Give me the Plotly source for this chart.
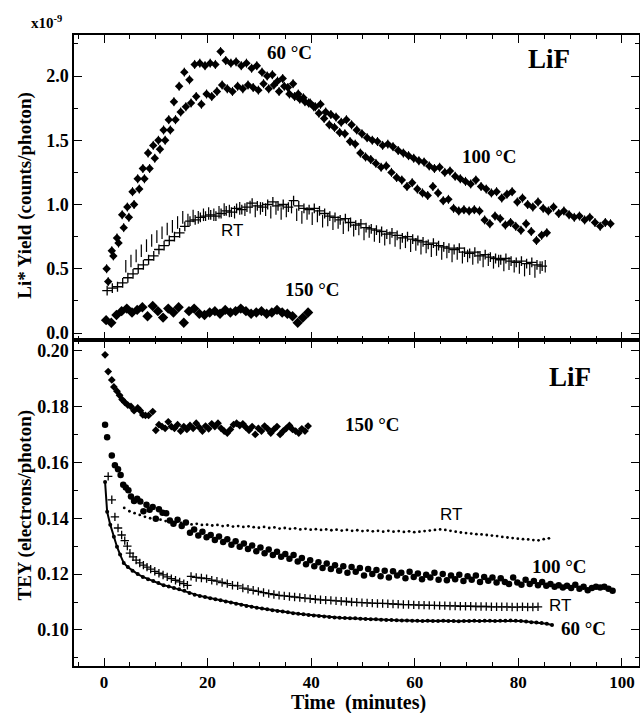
import plotly.graph_objects as go

# ---------------- Top panel: Li* yield (x1e-9 counts/photon) ----------------
t_top_60 = [0.5, 1.5, 2.5, 3.5, 4.5, 5.5, 6.5, 7.5, 8.5, 9.5,
            10.5, 11.5, 12.5, 13.5, 14.5, 15.5, 16.5, 17.5, 18.5, 19.5,
            20.5, 21.5, 22.5, 23.5, 24.5, 25.5, 26.5, 27.5, 28.5, 29.5,
            30.5, 31.5, 32.5, 33.5, 34.5, 35.5, 36.5, 37.5, 38.5, 39.5,
            40.5, 41.5, 42.5, 43.5, 44.5, 45.5, 46.5, 47.5, 48.5, 49.5,
            50.5, 51.5, 52.5, 53.5, 54.5, 55.5, 56.5, 57.5, 58.5, 59.5,
            60.5, 61.5, 62.5, 63.5, 64.5, 65.5, 66.5, 67.5, 68.5, 69.5,
            70.5, 71.5, 72.5, 73.5, 74.5, 75.5, 76.5, 77.5, 78.5, 79.5,
            80.5, 81.5, 82.5, 83.5, 84.5, 85.5]
y_top_60 = [0.50, 0.64, 0.74, 0.92, 0.98, 1.10, 1.20, 1.28, 1.40, 1.46,
            1.50, 1.58, 1.66, 1.80, 1.92, 2.03, 1.97, 2.09, 2.10, 2.08,
            2.10, 2.09, 2.19, 2.12, 2.10, 2.11, 2.08, 2.10, 2.06, 2.08,
            2.03, 2.00, 2.01, 1.96, 1.98, 1.91, 1.94, 1.86, 1.83, 1.79,
            1.76, 1.71, 1.67, 1.62, 1.60, 1.56, 1.55, 1.49, 1.47, 1.40,
            1.37, 1.35, 1.32, 1.29, 1.30, 1.25, 1.21, 1.19, 1.14, 1.17,
            1.12, 1.09, 1.07, 1.14, 1.09, 1.03, 1.04, 0.97, 0.95, 0.96,
            0.95, 0.96, 0.95, 0.88, 0.85, 0.91, 0.89, 0.84, 0.86, 0.83,
            0.80, 0.85, 0.79, 0.72, 0.76, 0.78]

t_top_100 = [0.8, 1.8, 2.8, 3.8, 4.8, 5.8, 6.8, 7.8, 8.8, 9.8,
             10.8, 11.8, 12.8, 13.8, 14.8, 15.8, 16.8, 17.8, 18.8, 19.8,
             20.8, 21.8, 22.8, 23.8, 24.8, 25.8, 26.8, 27.8, 28.8, 29.8,
             30.8, 31.8, 32.8, 33.8, 34.8, 35.8, 36.8, 37.8, 38.8, 39.8,
             40.8, 41.8, 42.8, 43.8, 44.8, 45.8, 46.8, 47.8, 48.8, 49.8,
             50.8, 51.8, 52.8, 53.8, 54.8, 55.8, 56.8, 57.8, 58.8, 59.8,
             60.8, 61.8, 62.8, 63.8, 64.8, 65.8, 66.8, 67.8, 68.8, 69.8,
             70.8, 71.8, 72.8, 73.8, 74.8, 75.8, 76.8, 77.8, 78.8, 79.8,
             80.8, 81.8, 82.8, 83.8, 84.8, 85.8, 86.8, 87.8, 88.8, 89.8,
             90.8, 91.8, 92.8, 93.8, 94.8, 95.8, 96.8, 97.8]
y_top_100 = [0.40, 0.60, 0.70, 0.82, 0.90, 1.00, 1.12, 1.20, 1.28, 1.36,
             1.43, 1.50, 1.58, 1.66, 1.72, 1.76, 1.79, 1.84, 1.78, 1.86,
             1.84, 1.88, 1.93, 1.90, 1.88, 1.92, 1.90, 1.93, 1.91, 1.89,
             1.94, 1.90, 1.93, 1.88, 1.92, 1.86, 1.84, 1.82, 1.80, 1.79,
             1.76, 1.78, 1.72, 1.70, 1.68, 1.64, 1.66, 1.62, 1.58, 1.55,
             1.52, 1.50, 1.49, 1.46, 1.47, 1.45, 1.42, 1.40, 1.38, 1.36,
             1.34, 1.33, 1.30, 1.28, 1.29, 1.25, 1.26, 1.22, 1.20, 1.18,
             1.16, 1.19, 1.14, 1.12, 1.09, 1.10, 1.05, 1.08, 1.10, 1.02,
             1.05, 1.00, 0.98, 1.02, 0.97, 0.95, 0.98, 0.93, 0.95, 0.92,
             0.90, 0.91, 0.88, 0.90, 0.86, 0.83, 0.86, 0.85]

t_top_rt_cross = [0.6, 1.6, 2.6, 3.6, 4.6, 5.6, 6.6, 7.6, 8.6, 9.6,
                  10.6, 11.6, 12.6, 13.6, 14.6, 15.6, 16.6, 17.6, 18.6, 19.6,
                  20.6, 21.6, 22.6, 23.6, 24.6, 25.6, 26.6, 27.6, 28.6, 29.6,
                  30.6, 31.6, 32.6, 33.6, 34.6, 35.6, 36.6, 37.6, 38.6, 39.6,
                  40.6, 41.6, 42.6, 43.6, 44.6, 45.6, 46.6, 47.6, 48.6, 49.6,
                  50.6, 51.6, 52.6, 53.6, 54.6, 55.6, 56.6, 57.6, 58.6, 59.6,
                  60.6, 61.6, 62.6, 63.6, 64.6, 65.6, 66.6, 67.6, 68.6, 69.6,
                  70.6, 71.6, 72.6, 73.6, 74.6, 75.6, 76.6, 77.6, 78.6, 79.6,
                  80.6, 81.6, 82.6, 83.6, 84.6]
y_top_rt_cross = [0.33, 0.35, 0.36, 0.39, 0.43, 0.46, 0.50, 0.53, 0.57, 0.60,
                  0.65, 0.68, 0.72, 0.75, 0.78, 0.83, 0.87, 0.88, 0.90, 0.91,
                  0.92, 0.91, 0.93, 0.95, 0.94, 0.97, 0.96, 0.98, 1.01, 0.99,
                  0.98, 1.00, 1.02, 0.99, 1.00, 0.98, 1.03, 0.99, 0.97, 0.96,
                  0.97, 0.95, 0.93, 0.91, 0.90, 0.88, 0.89, 0.86, 0.84, 0.85,
                  0.82, 0.81, 0.80, 0.79, 0.77, 0.78, 0.76, 0.74, 0.75, 0.73,
                  0.72, 0.71, 0.69, 0.70, 0.68, 0.67, 0.66, 0.65, 0.66, 0.63,
                  0.62, 0.63, 0.60, 0.61, 0.59, 0.58, 0.57, 0.58, 0.56, 0.55,
                  0.56, 0.54, 0.55, 0.53, 0.52]

t_top_rt_bar = [4.2, 5.2, 6.2, 7.2, 8.2, 9.2, 10.2, 11.2, 12.2, 13.2,
                14.2, 15.2, 16.2, 17.2, 18.2, 19.2, 20.2, 21.2, 22.2, 23.2,
                24.2, 25.2, 26.2, 27.2, 28.2, 29.2, 30.2, 31.2, 32.2, 33.2,
                34.2, 35.2, 36.2, 37.2, 38.2, 39.2, 40.2, 41.2, 42.2, 43.2,
                44.2, 45.2, 46.2, 47.2, 48.2, 49.2, 50.2, 51.2, 52.2, 53.2,
                54.2, 55.2, 56.2, 57.2, 58.2, 59.2, 60.2, 61.2, 62.2, 63.2,
                64.2, 65.2, 66.2, 67.2, 68.2, 69.2, 70.2, 71.2, 72.2, 73.2,
                74.2, 75.2, 76.2, 77.2, 78.2, 79.2, 80.2, 81.2, 82.2, 83.2,
                84.2, 85.2]
y_top_rt_bar = [0.52, 0.56, 0.60, 0.64, 0.68, 0.72, 0.75, 0.78, 0.81, 0.83,
                0.86, 0.90, 0.88, 0.91, 0.90, 0.92, 0.93, 0.92, 0.94, 0.96,
                0.95, 0.94, 0.97, 0.96, 0.98, 0.95, 0.97, 0.96, 0.94, 0.97,
                0.93, 0.95, 0.98, 0.92, 0.90, 0.93, 0.89, 0.91, 0.87, 0.88,
                0.85, 0.86, 0.82, 0.84, 0.80, 0.81, 0.77, 0.79, 0.76, 0.75,
                0.73, 0.74, 0.72, 0.70, 0.71, 0.68, 0.69, 0.66, 0.67, 0.64,
                0.65, 0.62, 0.63, 0.60, 0.62, 0.59, 0.60, 0.58, 0.59, 0.56,
                0.57, 0.55, 0.56, 0.53, 0.54, 0.52, 0.51, 0.49, 0.50, 0.48,
                0.51, 0.52]

t_top_150 = [0.4, 1.4, 2.4, 3.4, 4.4, 5.4, 6.4, 7.4, 8.4, 9.4,
             10.4, 11.4, 12.4, 13.4, 14.4, 15.4, 16.4, 17.4, 18.4, 19.4,
             20.4, 21.4, 22.4, 23.4, 24.4, 25.4, 26.4, 27.4, 28.4, 29.4,
             30.4, 31.4, 32.4, 33.4, 34.4, 35.4, 36.4, 37.4, 38.4, 39.4]
y_top_150 = [0.10, 0.08, 0.14, 0.17, 0.19, 0.16, 0.18, 0.20, 0.13, 0.21,
             0.17, 0.12, 0.19, 0.16, 0.20, 0.08, 0.17, 0.19, 0.15, 0.14,
             0.16, 0.17, 0.15, 0.18, 0.16, 0.17, 0.19, 0.17, 0.15, 0.16,
             0.17, 0.15, 0.16, 0.18, 0.16, 0.15, 0.13, 0.08, 0.12, 0.16]

# ---------------- Bottom panel: TEY (electrons/photon) ----------------
t_bot_150 = [0.2, 0.8, 1.5, 1.9, 2.5, 3.0, 3.5, 4.0, 4.6, 5.2,
             5.8, 6.5, 7.0, 7.5, 8.0, 8.6, 9.4, 10.0, 10.6, 11.2,
             11.8, 12.4, 13.0, 13.6, 14.2, 14.8, 15.4, 16.0, 16.6, 17.2,
             17.8, 18.4, 19.0, 19.6, 20.2, 20.8, 21.4, 22.0, 22.6, 23.2,
             23.8, 24.4, 25.0, 25.6, 26.2, 26.8, 27.4, 28.0, 28.6, 29.2,
             29.8, 30.4, 31.0, 31.6, 32.2, 32.8, 33.4, 34.0, 34.6, 35.2,
             35.8, 36.4, 37.0, 37.6, 38.2, 38.8, 39.4]
y_bot_150 = [0.1985, 0.1925, 0.1895, 0.1870, 0.1855, 0.1840, 0.1825, 0.1815, 0.1805, 0.1800,
             0.1785, 0.1795, 0.1785, 0.1770, 0.1768, 0.1768, 0.1782, 0.1715, 0.1735, 0.1728,
             0.1722, 0.1745, 0.1728, 0.1722, 0.1735, 0.1712, 0.1728, 0.1718, 0.1732, 0.1722,
             0.1740, 0.1725, 0.1712, 0.1730, 0.1720, 0.1738, 0.1728, 0.1740, 0.1722, 0.1712,
             0.1705, 0.1718, 0.1735, 0.1740, 0.1732, 0.1738, 0.1725, 0.1715, 0.1728, 0.1700,
             0.1722, 0.1712, 0.1730, 0.1720, 0.1705, 0.1718, 0.1728, 0.1700, 0.1712, 0.1722,
             0.1732, 0.1718, 0.1712, 0.1705, 0.1720, 0.1712, 0.1730]

t_bot_100 = [0.2, 0.6, 1.5, 2.1, 2.7, 3.2, 3.7, 4.2, 4.7, 5.2,
             5.8, 6.4, 7.0, 7.6, 8.2, 8.8, 9.4, 10.0, 10.6, 11.3,
             12.0, 12.7, 13.4, 14.2, 15.0, 15.8, 16.6, 17.4, 18.2, 19.0,
             19.8, 20.6, 21.4, 22.2, 23.0, 23.8, 24.6, 25.4, 26.2, 27.0,
             27.8, 28.6, 29.4, 30.2, 31.0, 31.8, 32.6, 33.4, 34.2, 35.0,
             35.8, 36.6, 37.4, 38.2, 39.0, 39.8, 40.6, 41.4, 42.2, 43.0,
             43.8, 44.6, 45.4, 46.2, 47.0, 47.8, 48.6, 49.4, 50.2, 51.0,
             51.8, 52.6, 53.4, 54.2, 55.0, 55.8, 56.6, 57.4, 58.2, 59.0,
             59.8, 60.6, 61.4, 62.2, 63.0, 63.8, 64.6, 65.4, 66.2, 67.0,
             67.8, 68.6, 69.4, 70.2, 71.0, 71.8, 72.6, 73.4, 74.2, 75.0,
             75.8, 76.6, 77.4, 78.2, 79.0, 79.8, 80.6, 81.4, 82.2, 83.0,
             83.8, 84.6, 85.4, 86.2, 87.0, 87.8, 88.6, 89.4, 90.2, 91.0,
             91.8, 92.6, 93.4, 94.2, 95.0, 95.8, 96.6, 97.4, 98.2]
y_bot_100 = [0.1735, 0.1690, 0.1625, 0.1590, 0.1575, 0.1555, 0.1520, 0.1510, 0.1500, 0.1478,
             0.1462, 0.1470, 0.1460, 0.1425, 0.1448, 0.1430, 0.1440, 0.1398, 0.1432, 0.1420,
             0.1418, 0.1392, 0.1380, 0.1395, 0.1372, 0.1385, 0.1348, 0.1360, 0.1338, 0.1352,
             0.1332, 0.1340, 0.1322, 0.1335, 0.1315, 0.1325, 0.1305, 0.1318, 0.1298, 0.1310,
             0.1290, 0.1302, 0.1282, 0.1295, 0.1275, 0.1288, 0.1268, 0.1280, 0.1262, 0.1272,
             0.1255, 0.1268, 0.1245, 0.1258, 0.1235, 0.1250, 0.1228, 0.1242, 0.1222, 0.1238,
             0.1218, 0.1232, 0.1212, 0.1228, 0.1205, 0.1225, 0.1208, 0.1222, 0.1195, 0.1218,
             0.1200, 0.1215, 0.1192, 0.1212, 0.1188, 0.1210, 0.1195, 0.1205, 0.1185, 0.1208,
             0.1190, 0.1202, 0.1182, 0.1198, 0.1188, 0.1205, 0.1180, 0.1200, 0.1178, 0.1195,
             0.1182, 0.1198, 0.1175, 0.1192, 0.1180, 0.1195, 0.1172, 0.1190, 0.1176, 0.1188,
             0.1170, 0.1185, 0.1172, 0.1165, 0.1188, 0.1170, 0.1162, 0.1180, 0.1165, 0.1175,
             0.1160, 0.1172, 0.1158, 0.1165, 0.1155, 0.1160, 0.1152, 0.1158, 0.1150, 0.1162,
             0.1148, 0.1155, 0.1142, 0.1150, 0.1155, 0.1152, 0.1155, 0.1148, 0.1140]

t_bot_rt_dot = [3.9, 4.9, 5.9, 6.9, 7.9, 8.9, 9.9, 10.9, 11.9, 12.9,
                13.9, 14.9, 15.9, 16.9, 17.9, 18.9, 19.9, 20.9, 21.9, 22.9,
                23.9, 24.9, 25.9, 26.9, 27.9, 28.9, 29.9, 30.9, 31.9, 32.9,
                33.9, 34.9, 35.9, 36.9, 37.9, 38.9, 39.9, 40.9, 41.9, 42.9,
                43.9, 44.9, 45.9, 46.9, 47.9, 48.9, 49.9, 50.9, 51.9, 52.9,
                53.9, 54.9, 55.9, 56.9, 57.9, 58.9, 59.9, 60.9, 61.9, 62.9,
                63.9, 64.9, 65.9, 66.9, 67.9, 68.9, 69.9, 70.9, 71.9, 72.9,
                73.9, 74.9, 75.9, 76.9, 77.9, 78.9, 79.9, 80.9, 81.9, 82.9,
                83.9, 84.9, 85.9]
y_bot_rt_dot = [0.1437, 0.1425, 0.1418, 0.1412, 0.1405, 0.1400, 0.1398, 0.1395, 0.1390, 0.1388,
                0.1385, 0.1383, 0.1380, 0.1378, 0.1380, 0.1376, 0.1377, 0.1374, 0.1376, 0.1372,
                0.1374, 0.1370, 0.1372, 0.1369, 0.1371, 0.1368, 0.1366, 0.1369, 0.1365, 0.1367,
                0.1363, 0.1365, 0.1362, 0.1364, 0.1360, 0.1362, 0.1359, 0.1361, 0.1358, 0.1360,
                0.1357, 0.1359, 0.1356, 0.1358, 0.1355, 0.1357, 0.1354, 0.1356, 0.1353, 0.1355,
                0.1352, 0.1355, 0.1352, 0.1354, 0.1351, 0.1353, 0.1350, 0.1352, 0.1354, 0.1356,
                0.1358, 0.1360, 0.1358, 0.1355, 0.1352, 0.1349, 0.1347, 0.1345, 0.1343, 0.1342,
                0.1340, 0.1338, 0.1336, 0.1333, 0.1331, 0.1329, 0.1327, 0.1325, 0.1324, 0.1322,
                0.1321, 0.1325, 0.1328]

t_bot_rt_cross = [0.8, 1.5, 2.1, 2.7, 3.4, 4.0, 4.5, 5.0, 5.6, 6.2,
                  6.9, 7.6, 8.3, 9.0, 9.8, 10.6, 11.4, 12.2, 13.0, 13.8,
                  14.6, 15.4, 16.1,
                  16.8, 17.8, 18.8, 19.8, 20.8, 21.8, 22.8, 23.8, 24.8, 25.8,
                  26.8, 27.8, 28.8, 29.8, 30.8, 31.8, 32.8, 33.8, 34.8, 35.8,
                  36.8, 37.8, 38.8, 39.8, 40.8, 41.8, 42.8, 43.8, 44.8, 45.8,
                  46.8, 47.8, 48.8, 49.8, 50.8, 51.8, 52.8, 53.8, 54.8, 55.8,
                  56.8, 57.8, 58.8, 59.8, 60.8, 61.8, 62.8, 63.8, 64.8, 65.8,
                  66.8, 67.8, 68.8, 69.8, 70.8, 71.8, 72.8, 73.8, 74.8, 75.8,
                  76.8, 77.8, 78.8, 79.8, 80.8, 81.8, 82.8, 83.8]
y_bot_rt_cross = [0.1550, 0.1466, 0.1405, 0.1365, 0.1340, 0.1320, 0.1300, 0.1275, 0.1262, 0.1250,
                  0.1240, 0.1232, 0.1225, 0.1218, 0.1210, 0.1203, 0.1197, 0.1190, 0.1184, 0.1178,
                  0.1172, 0.1166, 0.1160,
                  0.1192, 0.1188, 0.1186, 0.1184, 0.1178, 0.1175, 0.1170, 0.1166, 0.1160, 0.1158,
                  0.1150, 0.1146, 0.1142, 0.1138, 0.1134, 0.1130, 0.1127, 0.1124, 0.1122, 0.1120,
                  0.1118, 0.1116, 0.1114, 0.1112, 0.1110, 0.1108, 0.1107, 0.1106, 0.1104, 0.1103,
                  0.1102, 0.1100, 0.1099, 0.1098, 0.1097, 0.1096, 0.1095, 0.1095, 0.1094, 0.1093,
                  0.1092, 0.1091, 0.1091, 0.1090, 0.1089, 0.1089, 0.1088, 0.1088, 0.1087, 0.1087,
                  0.1086, 0.1086, 0.1085, 0.1085, 0.1085, 0.1084, 0.1084, 0.1084, 0.1083, 0.1083,
                  0.1083, 0.1083, 0.1082, 0.1082, 0.1083, 0.1082, 0.1082, 0.1083]

t_bot_60 = [0.2, 0.6, 1.2, 1.9, 2.5, 3.1, 3.8, 4.6, 5.5, 6.5,
            7.5, 8.5, 9.5, 10.5, 11.5, 12.5, 13.5, 14.5, 15.5, 16.5,
            17.5, 18.5, 19.5, 20.5, 21.5, 22.5, 23.5, 24.5, 25.5, 26.5,
            27.5, 28.5, 29.5, 30.5, 31.5, 32.5, 33.5, 34.5, 35.5, 36.5,
            37.5, 38.5, 39.5, 40.5, 41.5, 42.5, 43.5, 44.5, 45.5, 46.5,
            47.5, 48.5, 49.5, 50.5, 51.5, 52.5, 53.5, 54.5, 55.5, 56.5,
            57.5, 58.5, 59.5, 60.5, 61.5, 62.5, 63.5, 64.5, 65.5, 66.5,
            67.5, 68.5, 69.5, 70.5, 71.5, 72.5, 73.5, 74.5, 75.5, 76.5,
            77.5, 78.5, 79.5, 80.5, 81.5, 82.5, 83.5, 84.5, 85.5, 86.5]
y_bot_60 = [0.1530, 0.1423, 0.1377, 0.1334, 0.1298, 0.1270, 0.1240, 0.1225, 0.1212, 0.1200,
            0.1190, 0.1182, 0.1175, 0.1168, 0.1160, 0.1156, 0.1150, 0.1146, 0.1140, 0.1132,
            0.1126, 0.1122, 0.1118, 0.1114, 0.1110, 0.1106, 0.1102, 0.1098, 0.1094, 0.1090,
            0.1086, 0.1083, 0.1080, 0.1077, 0.1074, 0.1071, 0.1068, 0.1066, 0.1063, 0.1060,
            0.1058, 0.1056, 0.1054, 0.1052, 0.1050, 0.1048, 0.1046, 0.1045, 0.1044, 0.1043,
            0.1042, 0.1042, 0.1040, 0.1039, 0.1038, 0.1038, 0.1037, 0.1036, 0.1036, 0.1035,
            0.1034, 0.1034, 0.1033, 0.1033, 0.1032, 0.1033, 0.1032, 0.1032, 0.1033, 0.1032,
            0.1032, 0.1031, 0.1032, 0.1032, 0.1033, 0.1032, 0.1033, 0.1033, 0.1032, 0.1033,
            0.1033, 0.1034, 0.1033, 0.1032, 0.1030, 0.1028, 0.1027, 0.1025, 0.1022, 0.1018]

x_ticks = [0, 20, 40, 60, 80, 100]
top_ticks = [0.0, 0.5, 1.0, 1.5, 2.0]
bot_ticks = [0.10, 0.12, 0.14, 0.16, 0.18, 0.20]

SERIF = "Liberation Serif"
SANS = "Liberation Sans"
BLACK = "black"

fig = go.Figure()

ebar = dict(type="constant", value=0.035, width=0, thickness=1, color=BLACK)

# top panel traces
fig.add_trace(go.Scatter(x=t_top_60, y=y_top_60, mode="markers", xaxis="x2", yaxis="y2",
                         marker=dict(symbol="diamond", size=6.5, color=BLACK), error_y=ebar))
fig.add_trace(go.Scatter(x=t_top_100, y=y_top_100, mode="markers", xaxis="x2", yaxis="y2",
                         marker=dict(symbol="diamond", size=6.5, color=BLACK), error_y=ebar))
fig.add_trace(go.Scatter(x=t_top_rt_cross, y=y_top_rt_cross, mode="markers", xaxis="x2", yaxis="y2",
                         marker=dict(symbol="cross-thin", size=7, color=BLACK,
                                     line=dict(width=1.3, color=BLACK))))
fig.add_trace(go.Scatter(x=t_top_rt_bar, y=y_top_rt_bar, mode="markers", xaxis="x2", yaxis="y2",
                         marker=dict(symbol="line-ns", size=9, color=BLACK,
                                     line=dict(width=1.2, color=BLACK))))
fig.add_trace(go.Scatter(x=t_top_150, y=y_top_150, mode="markers", xaxis="x2", yaxis="y2",
                         marker=dict(symbol="diamond", size=8, color=BLACK)))

# bottom panel traces
fig.add_trace(go.Scatter(x=t_bot_150, y=y_bot_150, mode="markers", xaxis="x", yaxis="y",
                         marker=dict(symbol="diamond", size=6, color=BLACK)))
fig.add_trace(go.Scatter(x=t_bot_100, y=y_bot_100, mode="markers", xaxis="x", yaxis="y",
                         marker=dict(symbol="circle", size=6.5, color=BLACK)))
fig.add_trace(go.Scatter(x=t_bot_rt_dot, y=y_bot_rt_dot, mode="markers", xaxis="x", yaxis="y",
                         marker=dict(symbol="circle", size=2.8, color=BLACK)))
fig.add_trace(go.Scatter(x=t_bot_rt_cross, y=y_bot_rt_cross, mode="markers", xaxis="x", yaxis="y",
                         marker=dict(symbol="cross-thin", size=6, color=BLACK,
                                     line=dict(width=1.3, color=BLACK))))
fig.add_trace(go.Scatter(x=t_bot_60, y=y_bot_60, mode="lines+markers", xaxis="x", yaxis="y",
                         line=dict(color=BLACK, width=2),
                         marker=dict(symbol="circle", size=4, color=BLACK)))

tickfont = dict(family=SERIF, size=17, color=BLACK, weight="bold")
common_axis = dict(showline=True, linecolor=BLACK, linewidth=1.5, mirror="ticks",
                   ticks="inside", ticklen=8, tickwidth=1.2, tickcolor=BLACK,
                   showgrid=False, zeroline=False, automargin=False)
minor_x = dict(dtick=5, tick0=0, ticks="inside", ticklen=4, tickwidth=1, tickcolor=BLACK, showgrid=False)
ytickfont = dict(family=SERIF, size=18, color=BLACK, weight="bold")

X_RANGE = [-5.8, 103.3]
split = 0.5166

fig.update_layout(
    width=640, height=713,
    margin=dict(l=74, r=1, t=35, b=47, autoexpand=False),
    plot_bgcolor="white", paper_bgcolor="white",
    showlegend=False,
    xaxis=dict(domain=[0, 1], range=X_RANGE, anchor="y", tickvals=x_ticks,
               minor=minor_x, tickfont=tickfont, **common_axis),
    xaxis2=dict(domain=[0, 1], range=X_RANGE, anchor="y2", matches="x", tickvals=x_ticks,
                showticklabels=False, minor=minor_x, tickfont=tickfont, **common_axis),
    yaxis=dict(domain=[0, split], range=[0.0871, 0.2038], anchor="x", tickvals=bot_ticks,
               tickformat=".2f", tickfont=ytickfont,
               minor=dict(dtick=0.01, tick0=0, ticks="inside", ticklen=4, tickwidth=1,
                          tickcolor=BLACK, showgrid=False),
               **common_axis),
    yaxis2=dict(domain=[split, 1], range=[-0.0545, 2.319], anchor="x2", tickvals=top_ticks,
                tickformat=".1f", tickfont=ytickfont,
                minor=dict(dtick=0.25, tick0=0, ticks="inside", ticklen=4, tickwidth=1,
                           tickcolor=BLACK, showgrid=False),
                **common_axis),
)

def lab(text, x, y, xr, yr, size=19, family=SERIF, bold=True):
    fig.add_annotation(text=text, x=x, y=y, xref=xr, yref=yr, showarrow=False,
                       font=dict(family=family, size=size, color=BLACK,
                                 weight="bold" if bold else "normal"),
                       xanchor="center", yanchor="middle")

# top labels
lab("60 °C", 35.9, 2.18, "x2", "y2")
lab("LiF", 85.9, 2.13, "x2", "y2", size=27)
lab("100 °C", 74.5, 1.37, "x2", "y2")
lab("RT", 24.7, 0.80, "x2", "y2", size=17, family=SANS, bold=False)
lab("150 °C", 40.3, 0.335, "x2", "y2")
# bottom labels
lab("LiF", 90.0, 0.1907, "x", "y", size=27)
lab("150 °C", 51.9, 0.1734, "x", "y")
lab("RT", 67.0, 0.1412, "x", "y", size=17, family=SANS, bold=False)
lab("100 °C", 88.0, 0.1226, "x", "y")
lab("RT", 88.0, 0.1086, "x", "y", size=17, family=SANS, bold=False)
lab("60 °C", 92.5, 0.1007, "x", "y")

# axis titles and multiplier
fig.add_annotation(text="Li* Yield (counts/photon)", x=-0.086, y=0.746, xref="paper", yref="paper",
                   textangle=-90, showarrow=False, xanchor="center", yanchor="middle",
                   font=dict(family=SERIF, size=19, color=BLACK, weight="bold"))
fig.add_annotation(text="TEY (electrons/photon)", x=-0.086, y=0.255, xref="paper", yref="paper",
                   textangle=-90, showarrow=False, xanchor="center", yanchor="middle",
                   font=dict(family=SERIF, size=19, color=BLACK, weight="bold"))
fig.add_annotation(text="Time  (minutes)", x=0.503, y=-0.058, xref="paper", yref="paper",
                   showarrow=False, xanchor="center", yanchor="middle",
                   font=dict(family=SERIF, size=20, color=BLACK, weight="bold"))
fig.add_annotation(text="x10<sup>-9</sup>", x=-0.048, y=1.02, xref="paper", yref="paper",
                   showarrow=False, xanchor="center", yanchor="middle",
                   font=dict(family=SERIF, size=15, color=BLACK, weight="bold"))

fig.write_html("out.html", config={"displayModeBar": False},
               post_script="document.body.style.margin='0';")
